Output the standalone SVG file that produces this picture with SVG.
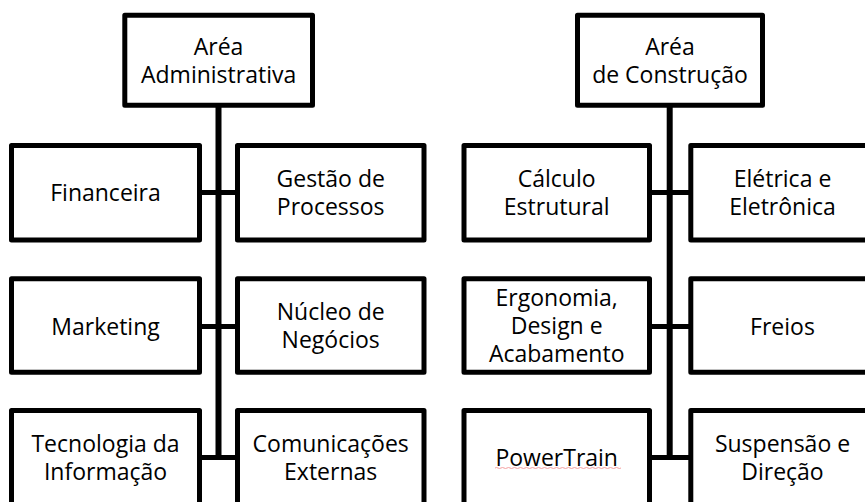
<svg xmlns="http://www.w3.org/2000/svg" width="865" height="502" viewBox="0 0 865 502">
<style>
.box{fill:#fff;stroke:#000;stroke-width:5;stroke-linejoin:round}
.t{font-family:"Open Sans","Liberation Sans",sans-serif;font-size:23px;fill:#000;text-anchor:middle}
.v{stroke:#000;stroke-width:6;fill:none}
.h{stroke:#000;stroke-width:5;fill:none}
</style>
<rect width="865" height="502" fill="#fff"/>
<g id="connectors">
<line class="v" x1="218.5" y1="105" x2="218.5" y2="460"/>
<line class="h" x1="199.5" y1="192.5" x2="237.5" y2="192.5"/>
<line class="h" x1="199.5" y1="326.5" x2="237.5" y2="326.5"/>
<line class="h" x1="199.5" y1="457.5" x2="237.5" y2="457.5"/>
<line class="v" x1="669.7" y1="105" x2="669.7" y2="460"/>
<line class="h" x1="649.5" y1="192.5" x2="690.8" y2="192.5"/>
<line class="h" x1="649.5" y1="326.5" x2="690.8" y2="326.5"/>
<line class="h" x1="649.5" y1="457.5" x2="690.8" y2="457.5"/>
</g>
<g id="area-adm">
<rect class="box" x="124.8" y="15.3" width="187.7" height="90"/>
<text class="t" x="218.6" y="55">Aréa</text>
<text class="t" x="218.6" y="83">Administrativa</text>
</g>
<g id="financeira">
<rect class="box" x="11.5" y="145.5" width="188" height="94.5"/>
<text class="t" x="105.5" y="200.5">Financeira</text>
</g>
<g id="gestao">
<rect class="box" x="237.5" y="145.5" width="186.5" height="94.5"/>
<text class="t" x="330.7" y="187">Gestão de</text>
<text class="t" x="330.7" y="215">Processos</text>
</g>
<g id="marketing">
<rect class="box" x="11.5" y="278.7" width="188" height="93.5"/>
<text class="t" x="105.5" y="334.5">Marketing</text>
</g>
<g id="nucleo">
<rect class="box" x="237.5" y="278.7" width="186.5" height="93.5"/>
<text class="t" x="330.7" y="320">Núcleo de</text>
<text class="t" x="330.7" y="348">Negócios</text>
</g>
<g id="tecnologia">
<rect class="box" x="11.5" y="410.5" width="188" height="95"/>
<text class="t" x="105.5" y="451.5">Tecnologia da</text>
<text class="t" x="105.5" y="479.5">Informação</text>
</g>
<g id="comunicacoes">
<rect class="box" x="237.5" y="410.5" width="186.5" height="95"/>
<text class="t" x="330.7" y="451.5">Comunicações</text>
<text class="t" x="330.7" y="479.5">Externas</text>
</g>
<g id="area-const">
<rect class="box" x="577.5" y="15.3" width="185" height="90"/>
<text class="t" x="670" y="55">Aréa</text>
<text class="t" x="670" y="83">de Construção</text>
</g>
<g id="calculo">
<rect class="box" x="464" y="145.5" width="185.5" height="94.5"/>
<text class="t" x="556.7" y="187">Cálculo</text>
<text class="t" x="556.7" y="215">Estrutural</text>
</g>
<g id="eletrica">
<rect class="box" x="690.8" y="145.5" width="185" height="94.5"/>
<text class="t" x="782.5" y="187">Elétrica e</text>
<text class="t" x="782.5" y="215">Eletrônica</text>
</g>
<g id="ergonomia">
<rect class="box" x="464" y="278.7" width="185.5" height="93.5"/>
<text class="t" x="556.7" y="305.5">Ergonomia,</text>
<text class="t" x="556.7" y="333.5">Design e</text>
<text class="t" x="556.7" y="361.5">Acabamento</text>
</g>
<g id="freios">
<rect class="box" x="690.8" y="278.7" width="185" height="93.5"/>
<text class="t" x="782.5" y="334.5">Freios</text>
</g>
<g id="powertrain">
<rect class="box" x="464" y="410.5" width="185.5" height="95"/>
<text class="t" x="556.7" y="465.5">PowerTrain</text>
<path d="M495 468 q1.5 -1 3 0 t3 0 t3 0 t3 0 t3 0 t3 0 t3 0 t3 0 t3 0 t3 0 t3 0 t3 0 t3 0 t3 0 t3 0 t3 0 t3 0 t3 0 t3 0 t3 0 t3 0 t3 0 t3 0 t3 0 t3 0 t3 0 t3 0 t3 0 t3 0 t3 0 t3 0 t3 0 t3 0 t3 0 t3 0 t3 0 t3 0 t3 0 t3 0 t3 0 t3 0 t3 0" fill="none" stroke="#f4a0a0" stroke-width="1"/>
</g>
<g id="suspensao">
<rect class="box" x="690.8" y="410.5" width="185" height="95"/>
<text class="t" x="782.5" y="451.5">Suspensão e</text>
<text class="t" x="782.5" y="479.5">Direção</text>
</g>
</svg>
